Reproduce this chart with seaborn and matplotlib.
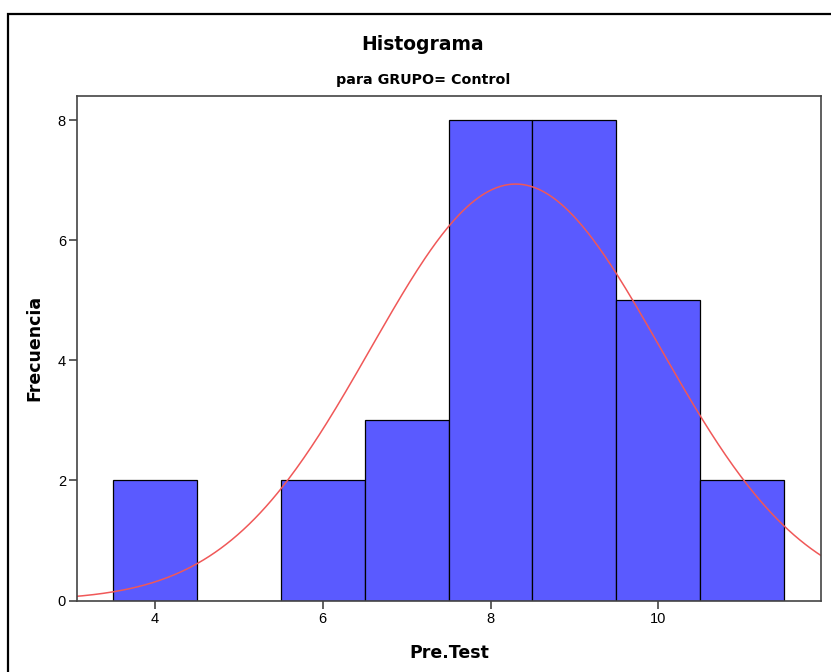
import numpy as np
import pandas as pd
import matplotlib.pyplot as plt
import seaborn as sns
from matplotlib.patches import Rectangle

# Scores and how many students got each one
scores = [4, 5, 6, 7, 8, 9, 10, 11]
counts = [2, 0, 2, 3, 8, 8, 5, 2]

# Normal curve parameters (SPSS overlay)
mean_score = 8.3
sd_score = 1.725

data = pd.DataFrame({'Pre.Test': np.repeat(scores, counts)})
n = len(data)

sns.set_style("white")
plt.rcParams['font.family'] = ['Liberation Sans', 'DejaVu Sans']
plt.rcParams['text.color'] = 'black'
plt.rcParams['axes.labelcolor'] = 'black'
plt.rcParams['xtick.color'] = 'black'
plt.rcParams['ytick.color'] = 'black'

fig = plt.figure(figsize=(8.31, 6.72), dpi=100)
ax = fig.add_axes([77 / 831, 1 - 600.5 / 672, 744 / 831, 504.5 / 672])

sns.histplot(data=data, x='Pre.Test', bins=np.arange(3.5, 12.5, 1), ax=ax,
             color='#5a5aff', alpha=1, edgecolor='black', linewidth=0.9)

xs = np.linspace(3.0, 12.0, 400)
ys = n * np.exp(-0.5 * ((xs - mean_score) / sd_score) ** 2) / (sd_score * np.sqrt(2 * np.pi))
sns.lineplot(x=xs, y=ys, ax=ax, color='#f05858', linewidth=1.1)

ax.set_xlim(3.07, 11.94)
ax.set_ylim(0, 8.405)
ax.set_xticks([4, 6, 8, 10])
ax.set_yticks([0, 2, 4, 6, 8])
ax.tick_params(axis='both', direction='out', length=6, width=1.2, labelsize=10.5,
               color='#444444', pad=2, bottom=True, left=True)
for side in ax.spines.values():
    side.set_color('#444444')
    side.set_linewidth(1.2)

bold = dict(family='DejaVu Sans', fontweight='bold')
ax.set_xlabel('Pre.Test', fontsize=12.5, labelpad=13, **bold)
ax.set_ylabel('Frecuencia', fontsize=12.5, labelpad=10, **bold)

fig.text(423 / 831, 1 - 44 / 672, 'Histograma', ha='center', va='center',
         fontsize=13.5, **bold)
fig.text(423 / 831, 1 - 80 / 672, 'para GRUPO= Control', ha='center', va='center',
         fontsize=10.3, **bold)

# outer frame like the SPSS chart window
fig.patches.append(Rectangle((7.5 / 831, -0.05), 1.0, 1 - 13.5 / 672 + 0.05,
                             transform=fig.transFigure, fill=False,
                             edgecolor='black', linewidth=1.6))

plt.savefig('out.png', dpi=100)
